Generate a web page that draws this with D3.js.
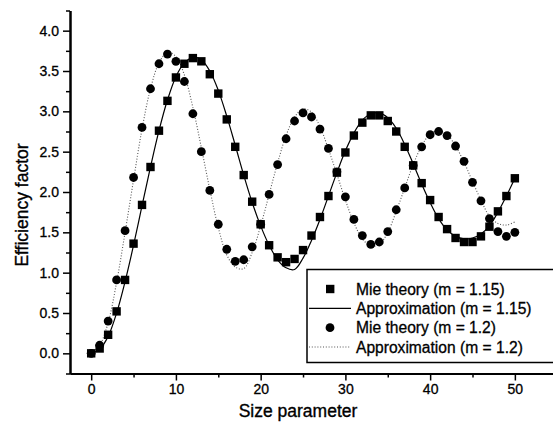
<!DOCTYPE html>
<html>
<head>
<meta charset="utf-8">
<script src="https://cdn.jsdelivr.net/npm/d3@7"></script>
<style>
  body { margin: 0; background: #fff; }
  svg { display: block; font-family: Arial, "Liberation Sans", sans-serif; }
  .tick text { font-size: 14px; fill: #000; stroke: #000; stroke-width: 0.3; }
  .title { font-size: 17.5px; fill: #000; stroke: #000; stroke-width: 0.35; }
  .legend text { font-size: 15.6px; fill: #000; stroke: #000; stroke-width: 0.3; }
</style>
</head>
<body>
<div id="chart"></div>
<script>
// size parameter values (x)
var sizeParam = [0,1,2,3,4,5,6,7,8,9,10,11,12,13,14,15,16,17,18,19,20,21,22,23,24,25,
  26,27,28,29,30,31,32,33,34,35,36,37,38,39,40,41,42,43,44,45,46,47,48,49,50];

// Mie theory points
var mie115 = [0.00,0.06,0.23,0.52,0.91,1.36,1.84,2.31,2.76,3.13,3.42,
  3.59,3.66,3.62,3.46,3.22,2.90,2.56,2.21,1.88,1.60,
  1.34,1.19,1.13,1.17,1.28,1.46,1.69,1.95,2.24,2.49,
  2.70,2.86,2.95,2.95,2.88,2.75,2.56,2.33,2.11,1.90,
  1.69,1.54,1.43,1.38,1.38,1.45,1.57,1.76,1.95,2.17];
var mie12 = [0.00,0.10,0.40,0.91,1.52,2.18,2.80,3.28,3.59,3.71,3.62,
  3.37,2.97,2.50,2.02,1.60,1.29,1.14,1.16,1.32,1.60,
  1.97,2.34,2.66,2.88,2.98,2.93,2.78,2.54,2.25,1.94,
  1.66,1.46,1.35,1.38,1.51,1.78,2.05,2.33,2.56,2.71,
  2.75,2.70,2.57,2.38,2.12,1.89,1.67,1.51,1.45,1.50];

// approximation curves
var approx115 = [0.00,0.05,0.21,0.50,0.89,1.34,1.83,2.31,2.76,3.14,3.43,
  3.60,3.67,3.64,3.50,3.26,2.94,2.58,2.21,1.87,1.58,
  1.34,1.16,1.06,1.04,1.18,1.40,1.66,1.95,2.24,2.51,
  2.73,2.89,2.97,2.98,2.92,2.79,2.59,2.35,2.10,1.87,
  1.67,1.53,1.45,1.42,1.43,1.48,1.58,1.75,1.95,2.17];
var approx12 = [0.00,0.10,0.38,0.88,1.50,2.15,2.78,3.28,3.60,3.73,3.68,
  3.45,3.05,2.55,2.03,1.56,1.22,1.07,1.05,1.25,1.58,
  1.97,2.36,2.70,2.93,3.03,2.99,2.81,2.53,2.22,1.90,
  1.62,1.42,1.33,1.35,1.50,1.76,2.05,2.34,2.57,2.72,
  2.76,2.71,2.57,2.37,2.13,1.90,1.70,1.61,1.59,1.63];

// ticks
var xMajor = [0,10,20,30,40,50];
var xMinor = [5,15,25,35,45];
var yMajor = [0,0.5,1,1.5,2,2.5,3,3.5,4];
var yMinor = [-0.25,0.25,0.75,1.25,1.75,2.25,2.75,3.25,3.75,4.25];

var legendItems = [
  {label: "Mie theory (m = 1.15)", type: "square"},
  {label: "Approximation (m = 1.15)", type: "solid"},
  {label: "Mie theory (m = 1.2)", type: "circle"},
  {label: "Approximation (m = 1.2)", type: "dotted"}
];

var W = 553, H = 430;
var svg = d3.select("#chart").append("svg")
  .attr("width", W).attr("height", H);

var x = d3.scaleLinear().domain([-2.5, 54.5]).range([70, 553]);
var y = d3.scaleLinear().domain([-0.25, 4.25]).range([373.5, 10.5]);

var pts = function(vals) {
  return sizeParam.map(function(d, i) { return [d, vals[i]]; });
};

var line = d3.line()
  .x(function(d) { return x(d[0]); })
  .y(function(d) { return y(d[1]); })
  .curve(d3.curveCatmullRom.alpha(0.5));

// approximation lines
svg.append("path").attr("d", line(pts(approx12)))
  .attr("fill", "none").attr("stroke", "#555")
  .attr("stroke-width", 1.1).attr("stroke-dasharray", "1,1.8");
svg.append("path").attr("d", line(pts(approx115)))
  .attr("fill", "none").attr("stroke", "#000").attr("stroke-width", 1.2);

// markers
svg.append("g").selectAll("circle").data(pts(mie12)).enter().append("circle")
  .attr("cx", function(d) { return x(d[0]); })
  .attr("cy", function(d) { return y(d[1]); })
  .attr("r", 4.4).attr("fill", "#000");
svg.append("g").selectAll("rect").data(pts(mie115)).enter().append("rect")
  .attr("x", function(d) { return x(d[0]) - 4.2; })
  .attr("y", function(d) { return y(d[1]) - 4.2; })
  .attr("width", 8.4).attr("height", 8.4).attr("fill", "#000");

// axes
var styleAxis = function(g) {
  g.select(".domain").attr("stroke", "#000").attr("stroke-width", 2);
  g.selectAll(".tick line").attr("stroke", "#000").attr("stroke-width", 1.5);
};

svg.append("g").attr("transform", "translate(0,373.5)")
  .call(d3.axisBottom(x).tickValues(xMinor).tickSize(4).tickFormat("").tickSizeOuter(0))
  .call(styleAxis);
svg.append("g").attr("transform", "translate(0,373.5)")
  .call(d3.axisBottom(x).tickValues(xMajor).tickSize(7).tickPadding(4).tickFormat(d3.format("d")).tickSizeOuter(0))
  .call(styleAxis);

svg.append("g").attr("transform", "translate(70,0)")
  .call(d3.axisLeft(y).tickValues(yMinor).tickSize(4).tickFormat("").tickSizeOuter(0))
  .call(styleAxis);
svg.append("g").attr("transform", "translate(70,0)")
  .call(d3.axisLeft(y).tickValues(yMajor).tickSize(7).tickPadding(4).tickFormat(d3.format(".1f")).tickSizeOuter(0))
  .call(styleAxis);

// titles
svg.append("text").attr("class", "title")
  .attr("x", 298).attr("y", 417).attr("text-anchor", "middle")
  .text("Size parameter");
svg.append("text").attr("class", "title")
  .attr("transform", "translate(28,205) rotate(-90)")
  .attr("text-anchor", "middle")
  .text("Efficiency factor");

// legend
var lg = svg.append("g").attr("class", "legend");
lg.append("rect").attr("x", 307).attr("y", 269.5).attr("width", 260).attr("height", 93)
  .attr("fill", "#fff").attr("stroke", "#000").attr("stroke-width", 1.5);

var rowY = d3.scaleLinear().domain([0, 3]).range([289, 347]);
legendItems.forEach(function(item, i) {
  var cy = rowY(i);
  if (item.type === "square") {
    lg.append("rect").attr("x", 326).attr("y", cy - 4.2).attr("width", 8.4).attr("height", 8.4).attr("fill", "#000");
  } else if (item.type === "circle") {
    lg.append("circle").attr("cx", 330).attr("cy", cy).attr("r", 4.4).attr("fill", "#000");
  } else if (item.type === "solid") {
    lg.append("line").attr("x1", 309).attr("x2", 351).attr("y1", cy).attr("y2", cy)
      .attr("stroke", "#000").attr("stroke-width", 1.2);
  } else {
    lg.append("line").attr("x1", 309).attr("x2", 351).attr("y1", cy).attr("y2", cy)
      .attr("stroke", "#555").attr("stroke-width", 1.1).attr("stroke-dasharray", "1,1.8");
  }
  lg.append("text").attr("x", 356).attr("y", cy + 5.5).text(item.label);
});
</script>
</body>
</html>
